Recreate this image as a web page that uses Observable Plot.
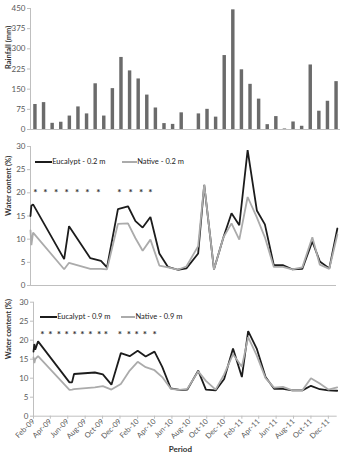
<!DOCTYPE html>
<html>
<head>
<meta charset="utf-8">
<script src="https://cdn.jsdelivr.net/npm/d3@7"></script>
<script src="https://cdn.jsdelivr.net/npm/@observablehq/plot@0.6"></script>
<style>
  html, body { margin: 0; padding: 0; background: #fff; }
  #wrap { position: relative; width: 341px; height: 456px; font-family: Lato, "Liberation Sans", sans-serif; }
  #wrap svg { display: block; }
  .panel { position: absolute; left: 0; }
  [aria-label="y-axis tick"], [aria-label="x-axis tick"] { stroke: #bfbfbf; }
  .legend { position: absolute; font-size: 7.5px; color: #222; white-space: nowrap; line-height: 1; }
  .legend .sw { position: absolute; height: 0; border-top: 2px solid; }
  .legend .lb { position: absolute; transform: translateY(-50%); }
</style>
</head>
<body>
<div id="wrap"></div>
<script>
// ---------- Data ----------
const months = ["Feb-09","Mar-09","Apr-09","May-09","Jun-09","Jul-09","Aug-09","Sep-09","Oct-09","Nov-09","Dec-09","Jan-10",
  "Feb-10","Mar-10","Apr-10","May-10","Jun-10","Jul-10","Aug-10","Sep-10","Oct-10","Nov-10","Dec-10","Jan-11",
  "Feb-11","Mar-11","Apr-11","May-11","Jun-11","Jul-11","Aug-11","Sep-11","Oct-11","Nov-11","Dec-11","Jan-12"];
const rainfall = [93,100,23,27,50,84,58,170,50,152,268,218,
  188,128,80,22,19,62,0,58,75,46,275,445,
  222,168,113,18,48,2,28,12,240,68,105,178];
const rainTicks = [0,75,150,225,300,375,450];

// Water content at 0.2 m
const dates02 = ["2009-02-01","2009-02-04","2009-02-10","2009-05-29","2009-06-15","2009-08-28","2009-10-04","2009-10-25",
  "2009-12-02","2010-01-06","2010-02-01","2010-02-26","2010-03-25","2010-04-25","2010-05-25","2010-06-28","2010-07-28",
  "2010-09-07","2010-09-28","2010-11-01","2010-12-04","2011-01-01","2011-01-28","2011-02-26","2011-03-30","2011-04-27",
  "2011-05-28","2011-06-28","2011-07-31","2011-09-04","2011-10-09","2011-11-04","2011-12-07","2012-01-04"];
const eucalypt02 = [15.0,17.2,17.5,5.7,12.8,5.9,5.3,3.9,16.5,17.1,13.9,12.5,14.8,6.9,4.0,3.4,3.7,
  6.9,21.7,3.5,10.4,15.6,13.0,29.2,16.2,13.2,4.4,4.4,3.5,3.6,9.5,5.2,3.7,12.3];
const native02 = [11.9,8.7,11.4,3.5,4.9,3.6,3.6,3.5,13.3,13.4,10.2,7.5,9.9,4.3,3.9,3.4,4.1,
  8.5,21.8,3.5,10.4,13.4,9.9,19.1,14.7,10.4,4.0,4.0,3.5,3.9,10.4,4.5,3.6,11.0];
const stars02 = ["2009-02-18","2009-03-25","2009-05-01","2009-06-07","2009-07-13","2009-08-18","2009-09-25",
  "2009-12-07","2010-01-15","2010-02-21","2010-03-25"];
const starLevel02 = 20.7;

// Water content at 0.9 m
const dates09 = ["2009-02-01","2009-02-04","2009-02-07","2009-02-17","2009-06-07","2009-06-16","2009-06-23","2009-09-04",
  "2009-10-02","2009-11-01","2009-12-04","2010-01-04","2010-02-01","2010-03-01","2010-04-01","2010-04-28","2010-05-28",
  "2010-06-28","2010-07-25","2010-09-01","2010-09-28","2010-11-01","2010-12-01","2011-01-01","2011-02-01","2011-02-23",
  "2011-03-25","2011-04-25","2011-05-25","2011-06-25","2011-07-28","2011-09-01","2011-10-01","2011-11-01","2011-12-01","2012-01-01"];
const eucalypt09 = [17.0,19.0,17.5,19.7,8.9,8.9,11.1,11.5,11.0,8.3,16.6,15.8,17.2,15.7,17.0,13.0,7.3,
  6.9,7.0,12.0,7.0,6.8,9.8,17.8,10.3,22.4,17.8,10.3,7.2,7.2,6.8,6.8,8.0,7.1,6.8,6.7];
const native09 = [15.5,14.0,15.0,15.8,6.9,7.0,7.1,7.6,7.9,7.0,8.5,12.0,14.3,12.9,12.1,10.3,7.2,
  6.9,7.2,11.8,9.3,7.0,11.0,16.3,13.0,20.8,16.0,10.0,7.5,7.7,6.8,6.8,10.0,8.6,7.0,7.6];
const stars09 = ["2009-03-04","2009-04-01","2009-05-01","2009-05-28","2009-06-25","2009-07-22","2009-08-19","2009-09-19","2009-10-13",
  "2009-12-01","2010-01-01","2010-01-28","2010-02-26","2010-04-01"];
const starLevel09 = 22.1;

const wcTicks = [0,5,10,15,20,25,30];
const xTickDates = ["2009-02-01","2009-04-01","2009-06-01","2009-08-01","2009-10-01","2009-12-01","2010-02-01","2010-04-01",
  "2010-06-01","2010-08-01","2010-10-01","2010-12-01","2011-02-01","2011-04-01","2011-06-01","2011-08-01","2011-10-01","2011-12-01"];
const xTickLabels = ["Feb-09","Apr-09","Jun-09","Aug-09","Oct-09","Dec-09","Feb-10","Apr-10","Jun-10","Aug-10","Oct-10","Dec-10",
  "Feb-11","Apr-11","Jun-11","Aug-11","Oct-11","Dec-11"];
const xDomain = ["2009-02-01","2012-01-01"];

const seriesNames02 = ["Eucalypt - 0.2 m","Native - 0.2 m"];
const seriesNames09 = ["Eucalypt - 0.9 m","Native - 0.9 m"];

// ---------- Helpers ----------
const P = d3.utcParse("%Y-%m-%d");
const BLACK = "#1c1c1c", GREY = "#ababab", AXIS = "#bfbfbf", TXT = "#595959";
const FONT = "Lato, 'Liberation Sans', sans-serif";
const wrap = document.getElementById("wrap");

function place(el, top) {
  const d = document.createElement("div");
  d.className = "panel"; d.style.top = top + "px";
  d.appendChild(el); wrap.appendChild(d);
}
function legend(top, items) {
  const d = document.createElement("div");
  d.className = "legend"; d.style.top = top + "px"; d.style.left = "0px";
  for (const it of items) {
    const s = document.createElement("div");
    s.className = "sw"; s.style.left = it.x0 + "px"; s.style.width = (it.x1 - it.x0) + "px";
    s.style.borderTopColor = it.color; s.style.top = "-1px";
    const t = document.createElement("div");
    t.className = "lb"; t.style.left = (it.x1 + 0.5) + "px"; t.textContent = it.text;
    d.appendChild(s); d.appendChild(t);
  }
  wrap.appendChild(d);
}

// ---------- Rainfall ----------
const rainPlot = Plot.plot({
  width: 341, height: 135,
  marginTop: 8, marginBottom: 6, marginLeft: 30, marginRight: 1,
  style: {fontFamily: FONT, background: "transparent"},
  x: {type: "band", domain: months, range: [31.5, 339.5], paddingInner: 0.6, paddingOuter: 0.2, round: false, axis: null},
  y: {domain: [0, 450], axis: null},
  marks: [
    Plot.frame({anchor: "left", stroke: AXIS}),
    Plot.ruleY([0], {stroke: AXIS}),
    Plot.axisY({ticks: rainTicks, tickSize: 3, tickPadding: 2, fontSize: 8, fill: TXT, label: null}),
    Plot.barY(rainfall, {x: months, y: rainfall, fill: "#6b6b6b"}),
    Plot.text(["Rainfall (mm)"], {frameAnchor: "left", rotate: -90, dx: -22, fontSize: 7.5, fontWeight: "bold", fill: "#333"})
  ]
});
place(rainPlot, 0);

// ---------- Water content panels ----------
function wcPanel(opts) {
  const {dates, euc, nat, stars, starLevel, height, marginTop, marginBottom, marginLeft, marginRight, showX} = opts;
  const eucData = dates.map((d, i) => ({date: P(d), v: euc[i]}));
  const natData = dates.map((d, i) => ({date: P(d), v: nat[i]}));
  const starData = stars.map(d => ({date: P(d), v: starLevel}));
  const labelMap = new Map(xTickDates.map((d, i) => [+P(d), xTickLabels[i]]));
  const marks = [
    Plot.frame({anchor: "left", stroke: AXIS}),
    Plot.ruleY([0], {stroke: AXIS}),
    Plot.axisY({ticks: wcTicks, tickSize: 3, tickPadding: 2, fontSize: 8, fill: TXT, label: null}),
    Plot.line(eucData, {x: "date", y: "v", stroke: BLACK, strokeWidth: 1.8, strokeLinejoin: "miter"}),
    Plot.line(natData, {x: "date", y: "v", stroke: GREY, strokeWidth: 1.8, strokeLinejoin: "miter"}),
    Plot.text(starData, {x: "date", y: "v", text: () => "*", fontSize: 10, dy: 3, fill: "#333", fontWeight: "bold"}),
    Plot.text(["Water content (%)"], {frameAnchor: "left", rotate: -90, dx: showX ? -25 : -22, fontSize: 7.5, fontWeight: "bold", fill: "#333"})
  ];
  if (showX) {
    marks.push(Plot.axisX({ticks: xTickDates.map(P), tickFormat: d => labelMap.get(+d), tickRotate: -45,
      tickSize: 3, tickPadding: 1, fontSize: 7.5, fill: TXT, label: null}));
    marks.push(Plot.text(["Period"], {frameAnchor: "bottom", dy: 36, dx: -5, fontSize: 8, fontWeight: "bold", fill: "#333"}));
  }
  return Plot.plot({
    width: 341, height, marginTop, marginBottom, marginLeft, marginRight,
    style: {fontFamily: FONT, background: "transparent"},
    x: {type: "utc", domain: xDomain.map(P), axis: null},
    y: {domain: [0, 30], axis: null},
    marks
  });
}

place(wcPanel({dates: dates02, euc: eucalypt02, nat: native02, stars: stars02, starLevel: starLevel02,
  height: 155, marginTop: 11, marginBottom: 5, marginLeft: 30, marginRight: 5, showX: false}), 135);
legend(161.7, [
  {x0: 35, x1: 51.7, color: BLACK, text: seriesNames02[0]},
  {x0: 121.7, x1: 136.7, color: GREY, text: seriesNames02[1]}
]);

place(wcPanel({dates: dates09, euc: eucalypt09, nat: native09, stars: stars09, starLevel: starLevel09,
  height: 166, marginTop: 11.7, marginBottom: 40.3, marginLeft: 33, marginRight: 4.3, showX: true}), 290);
legend(317.3, [
  {x0: 40, x1: 56.7, color: BLACK, text: seriesNames09[0]},
  {x0: 120.7, x1: 135, color: GREY, text: seriesNames09[1]}
]);
</script>
</body>
</html>
